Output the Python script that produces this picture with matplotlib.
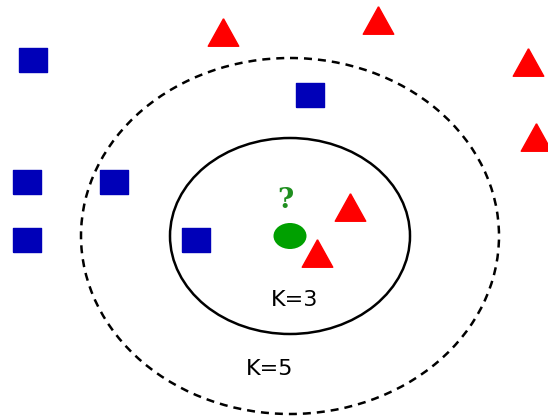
import matplotlib.pyplot as plt
from matplotlib.patches import Ellipse
from matplotlib.path import Path

# pixel-like coordinates (y goes down)
sq_x = [33, 310, 27, 114, 27, 196]
sq_y = [60, 95, 182, 182, 240, 240]
tri_x = [223, 378, 528, 536, 350, 317]
tri_y = [32, 20, 62, 137, 207, 253]
query = (290, 236)
k_labels = ['K=3', 'K=5']

fig = plt.figure(figsize=(5.48, 4.19), dpi=100)
ax = fig.add_axes([0, 0, 1, 1])
ax.set_xlim(0, 548)
ax.set_ylim(419, 0)
ax.axis('off')

# circles round the query point
ax.add_patch(Ellipse(query, 240, 196, fill=False, lw=1.8, ec='black'))
ax.add_patch(Ellipse(query, 418, 356, fill=False, lw=1.8, ec='black',
                     ls=(0, (3.2, 2.4))))

sq = Path([(-1.15, -1), (1.15, -1), (1.15, 1), (-1.15, 1), (-1.15, -1)])
tri = Path([(0, 0.9), (-1, -0.9), (1, -0.9), (0, 0.9)])
ax.plot(sq_x, sq_y, ls='none', marker=sq, ms=20.5, color='#0000b8')
ax.plot(tri_x, tri_y, ls='none', marker=tri, ms=22, color='#ff0000')

ax.add_patch(Ellipse(query, 33, 26, color='#00a000', lw=0))
ax.text(285, 200, '?', color='#1f8f1f', fontsize=20, fontweight='bold',
        family='DejaVu Serif', ha='center', va='center')

ax.text(295, 300, k_labels[0], fontsize=16, ha='center', va='center')
ax.text(270, 369, k_labels[1], fontsize=16, ha='center', va='center')

fig.savefig('out.png', dpi=100)
